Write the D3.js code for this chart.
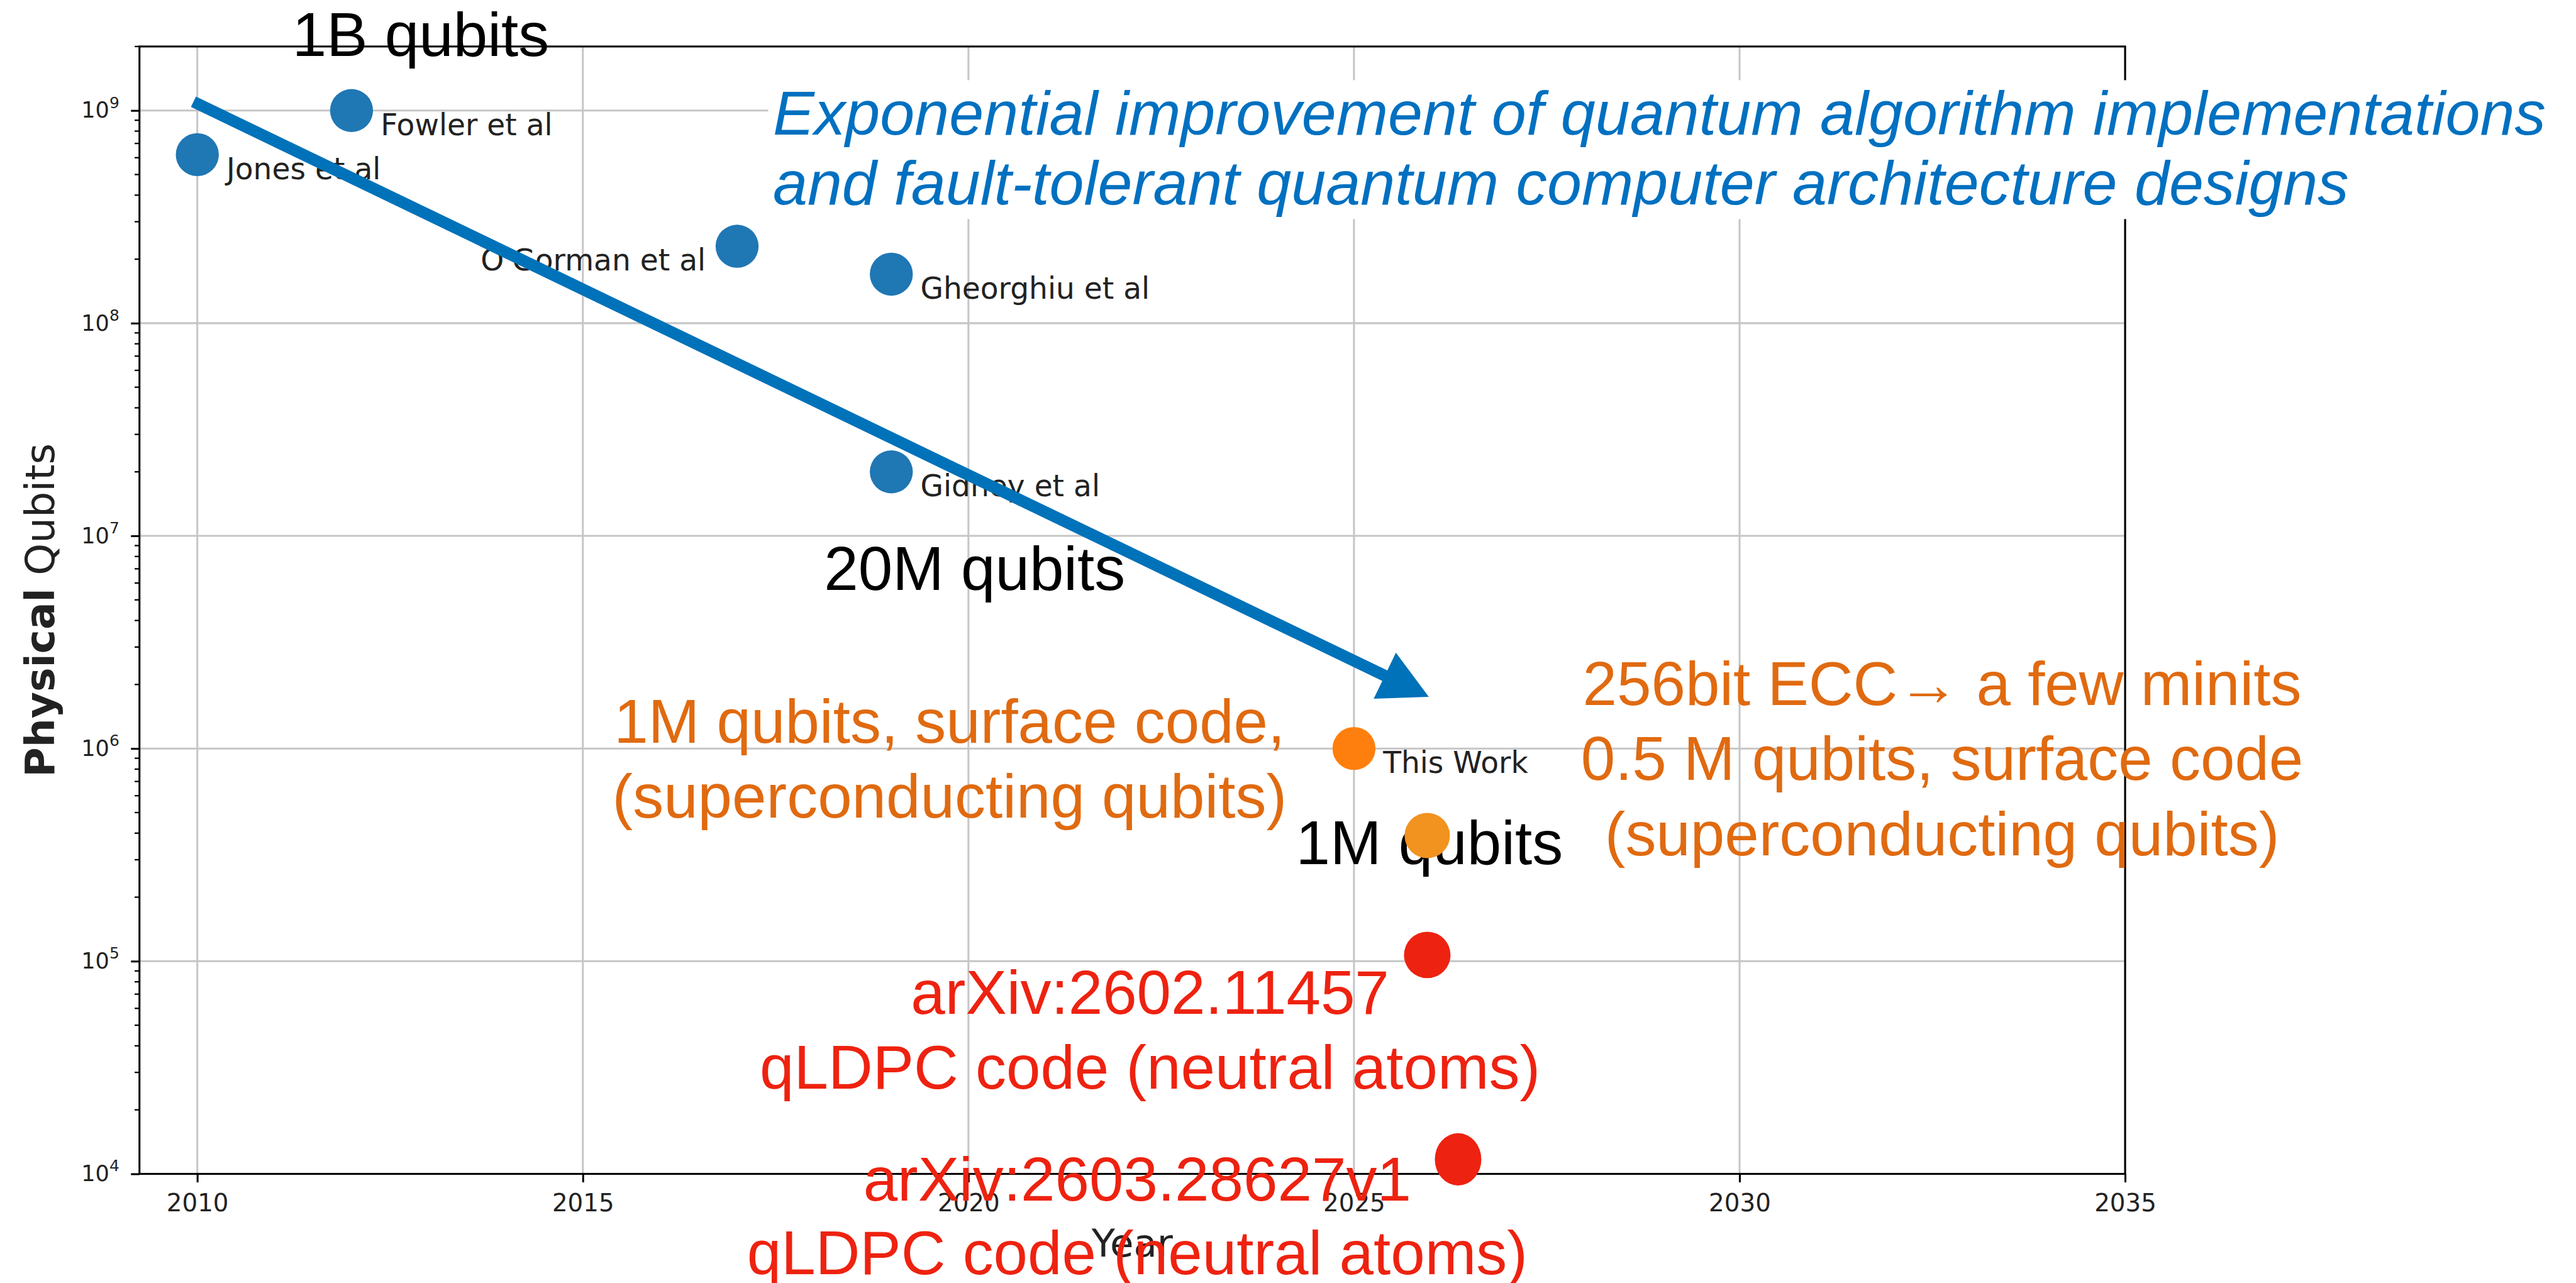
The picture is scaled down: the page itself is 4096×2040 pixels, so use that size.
<!DOCTYPE html>
<html><head><meta charset="utf-8">
<script src="https://cdn.jsdelivr.net/npm/d3@7"></script>
<style>body{margin:0;background:#fff;} svg{display:block}</style>
</head><body>
<script>
// ---------- data ----------
const refYears   = [2010, 2012, 2017, 2019, 2019];
const refQubits  = [6.2e8, 1.0e9, 2.3e8, 1.7e8, 2.0e7];
const refLabels  = ["Jones et al", "Fowler et al", "O'Gorman et al", "Gheorghiu et al", "Gidney et al"];
const refSide    = ["right", "right", "left", "right", "right"];
const thisWorkYears  = [2025];
const thisWorkQubits = [1.0e6];
const thisWorkLabels = ["This Work"];
const eccYears   = [2025.95];
const eccQubits  = [3.9e5];
const ldpcYears  = [2025.95, 2026.35];
const ldpcQubits = [1.07e5, 1.17e4];
const xTicks     = [2010, 2015, 2020, 2025, 2030, 2035];
const yTickExps  = [4, 5, 6, 7, 8, 9];
const xDomain    = [2009.25, 2035];
const yDomain    = [1e4, 2e9];
const trendFrom  = [2009.95, 1.1e9];
const trendTo    = [2025.97, 1.75e6];
const titleLines = ["Exponential improvement of quantum algorithm implementations",
                    "and fault-tolerant quantum computer architecture designs"];
const leftOrangeLines  = ["1M qubits, surface code,", "(superconducting qubits)"];
const rightOrangeLines = ["256bit ECC\u2192 a few minits", "0.5 M qubits, surface code", "(superconducting qubits)"];
const red1Lines = ["arXiv:2602.11457", "qLDPC code (neutral atoms)"];
const red2Lines = ["arXiv:2603.28627v1", "qLDPC code (neutral atoms)"];
const bigLabels = ["1B qubits", "20M qubits", "1M qubits"];

// ---------- setup ----------
const W = 4096, H = 2040, S = 0.924;
const svg = d3.select("body").append("svg").attr("width", W).attr("height", H);
svg.append("rect").attr("width", W).attr("height", H).attr("fill", "#fff");
const g = svg.append("g").attr("transform", `scale(${S})`);
const P = {left: 240, right: 3657, top: 80, bottom: 2020};
const x = d3.scaleLinear().domain(xDomain).range([P.left, P.right]);
const y = d3.scaleLog().domain(yDomain).range([P.bottom, P.top]);
const MPL = "DejaVu Sans";
const KEY = "Liberation Sans, Arial, Helvetica, sans-serif";

// grid
const grid = g.append("g");
grid.selectAll("line.v").data(xTicks).join("line").attr("class", "v")
  .attr("x1", d => x(d)).attr("x2", d => x(d)).attr("y1", P.top).attr("y2", P.bottom)
  .attr("stroke", "#c6c6c6").attr("stroke-width", 3.3);
grid.selectAll("line.h").data(yTickExps.map(e => Math.pow(10, e))).join("line").attr("class", "h")
  .attr("x1", P.left).attr("x2", P.right).attr("y1", d => y(d)).attr("y2", d => y(d))
  .attr("stroke", "#c6c6c6").attr("stroke-width", 3.3);

// axes
const xAxis = g.append("g").attr("transform", `translate(0,${P.bottom})`)
  .call(d3.axisBottom(x).tickValues(xTicks).tickFormat(d3.format("d")).tickSize(14.6).tickPadding(20).tickSizeOuter(0));
xAxis.select(".domain").remove();
xAxis.selectAll(".tick line").attr("stroke", "#000").attr("stroke-width", 3.3);
xAxis.selectAll(".tick text").attr("font-family", MPL).attr("font-size", 42).attr("fill", "#222");

const yAxis = g.append("g").attr("transform", `translate(${P.left},0)`)
  .call(d3.axisLeft(y).tickValues(yTickExps.map(e => Math.pow(10, e))).tickFormat(() => "").tickSize(14.6).tickPadding(20).tickSizeOuter(0));
yAxis.select(".domain").remove();
yAxis.selectAll(".tick line").attr("stroke", "#000").attr("stroke-width", 3.3);
yAxis.selectAll(".tick text").each(function(d) {
  const t = d3.select(this).attr("font-family", MPL).attr("font-size", 38).attr("fill", "#222");
  t.append("tspan").text("10");
  t.append("tspan").attr("dy", -17).attr("font-size", 27).text(Math.round(Math.log10(d)));
});
// minor ticks
const minor = [];
yTickExps.forEach(e => { for (let m = 2; m <= 9; m++) { const v = m * Math.pow(10, e); if (v <= yDomain[1]) minor.push(v); } });
g.append("g").selectAll("line").data(minor).join("line")
  .attr("x1", P.left - 8.3).attr("x2", P.left).attr("y1", d => y(d)).attr("y2", d => y(d))
  .attr("stroke", "#000").attr("stroke-width", 2.5);

// spines
g.append("rect").attr("x", P.left).attr("y", P.top).attr("width", P.right - P.left).attr("height", P.bottom - P.top)
  .attr("fill", "none").attr("stroke", "#000").attr("stroke-width", 3.3);

// axis labels
g.append("text").attr("x", (P.left + P.right) / 2).attr("y", 2162).attr("text-anchor", "middle")
  .attr("font-family", MPL).attr("font-size", 66).attr("fill", "#222").text("Year");
g.append("text").attr("transform", `translate(93,${(P.top + P.bottom) / 2}) rotate(-90)`).attr("text-anchor", "middle")
  .attr("font-family", MPL).attr("font-size", 70).attr("fill", "#222")
  .call(t => { t.append("tspan").attr("font-weight", "bold").text("Physical"); t.append("tspan").text(" Qubits"); });

// reference points
const refData = refYears.map((yr, i) => ({yr, q: refQubits[i], label: refLabels[i], side: refSide[i]}));
g.append("g").selectAll("circle").data(refData).join("circle")
  .attr("cx", d => x(d.yr)).attr("cy", d => y(d.q)).attr("r", 37).attr("fill", "#1f77b4");
g.append("g").selectAll("text").data(refData).join("text")
  .attr("x", d => x(d.yr) + (d.side === "right" ? 50 : -54)).attr("y", d => y(d.q) + 42)
  .attr("text-anchor", d => d.side === "right" ? "start" : "end")
  .attr("font-family", MPL).attr("font-size", 51).attr("fill", "#222").text(d => d.label);

// this work
const twData = thisWorkYears.map((yr, i) => ({yr, q: thisWorkQubits[i], label: thisWorkLabels[i]}));
g.append("g").selectAll("circle").data(twData).join("circle")
  .attr("cx", d => x(d.yr)).attr("cy", d => y(d.q)).attr("r", 37).attr("fill", "#ff7f0e");
g.append("g").selectAll("text").data(twData).join("text")
  .attr("x", d => x(d.yr) + 50).attr("y", d => y(d.q) + 42)
  .attr("font-family", MPL).attr("font-size", 51).attr("fill", "#222").text(d => d.label);

// big black labels
const bigPos = [[503, 96], [1418, 1015], [2230, 1487]];
g.append("g").selectAll("text").data(bigLabels).join("text")
  .attr("x", (d, i) => bigPos[i][0]).attr("y", (d, i) => bigPos[i][1])
  .attr("font-family", KEY).attr("font-size", 106).attr("fill", "#000").text(d => d);

// overlay markers
g.append("g").selectAll("circle").data(eccYears.map((yr, i) => ({yr, q: eccQubits[i]}))).join("circle")
  .attr("cx", d => x(d.yr)).attr("cy", d => y(d.q)).attr("r", 39).attr("fill", "#F2921F");
g.append("g").selectAll("ellipse").data(ldpcYears.map((yr, i) => ({yr, q: ldpcQubits[i], i}))).join("ellipse")
  .attr("cx", d => x(d.yr)).attr("cy", d => y(d.q)).attr("rx", 40).attr("ry", d => d.i === 0 ? 40 : 45).attr("fill", "#EE2210");

// text blocks
function block(lines, cx, baseline0, lh, color, anchor, opts = {}) {
  const t = g.append("text").attr("font-family", KEY).attr("font-size", opts.size || 105).attr("fill", color)
    .attr("text-anchor", anchor);
  if (opts.italic) t.attr("font-style", "italic");
  lines.forEach((l, i) => t.append("tspan").attr("x", cx).attr("y", baseline0 + i * lh).text(l));
  return t;
}
block(leftOrangeLines, 1634, 1278, 129, "#E06A10", "middle", {size: 106});
block(rightOrangeLines, 3342, 1213, 129.5, "#E06A10", "middle", {size: 106});
block(red1Lines, 1979, 1745, 128, "#EE2210", "middle", {size: 106});
block(red2Lines, 1957, 2066, 127, "#EE2210", "middle", {size: 106});

// trend arrow
const ax0 = x(trendFrom[0]), ay0 = y(trendFrom[1]), ax1 = x(trendTo[0]), ay1 = y(trendTo[1]);
const dx = ax1 - ax0, dy = ay1 - ay0, len = Math.hypot(dx, dy), ux = dx / len, uy = dy / len;
const headLen = 84, headW = 88;
const bx = ax1 - ux * headLen, by = ay1 - uy * headLen;
g.append("line").attr("x1", ax0).attr("y1", ay0).attr("x2", bx + ux * 2).attr("y2", by + uy * 2)
  .attr("stroke", "#0072B9").attr("stroke-width", 20);
g.append("path").attr("d", `M${ax1},${ay1}L${bx - uy * headW / 2},${by + ux * headW / 2}L${bx + uy * headW / 2},${by - ux * headW / 2}Z`)
  .attr("fill", "#0072B9");

// title box
g.append("rect").attr("x", 1322).attr("y", 138).attr("width", 4431 - 1322).attr("height", 239).attr("fill", "#fff");
block(titleLines, 1330, 232, 120, "#0070C0", "start", {italic: true, size: 107});
</script>
</body></html>
